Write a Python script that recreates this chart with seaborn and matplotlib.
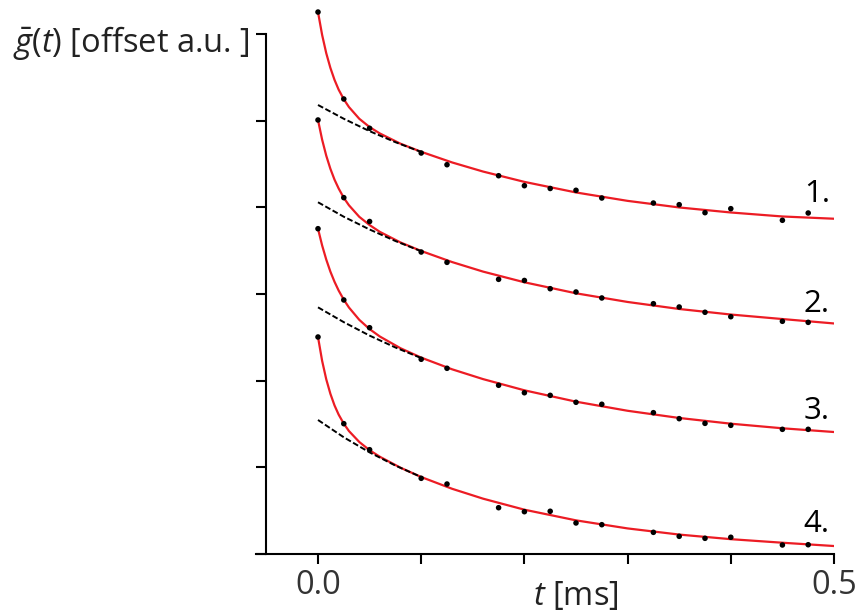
import numpy as np
import pandas as pd
import matplotlib
matplotlib.use("Agg")
import matplotlib.pyplot as plt
import seaborn as sns

# ---- data ----
t_points = [0.0, 0.025, 0.05, 0.1, 0.125, 0.175, 0.2, 0.225, 0.25, 0.275,
            0.325, 0.35, 0.375, 0.4, 0.45, 0.475]
g1_points = [6.251, 5.248, 4.910, 4.625, 4.490, 4.363, 4.248, 4.216, 4.195, 4.106,
             4.048, 4.029, 3.937, 3.983, 3.849, 3.933]
g2_points = [5.006, 4.110, 3.835, 3.483, 3.364, 3.168, 3.155, 3.060, 3.022, 2.953,
             2.887, 2.849, 2.788, 2.737, 2.684, 2.672]
g3_points = [3.752, 2.930, 2.610, 2.246, 2.142, 1.946, 1.860, 1.830, 1.750, 1.727,
             1.630, 1.561, 1.507, 1.484, 1.438, 1.438]
g4_points = [2.503, 1.503, 1.203, 0.873, 0.807, 0.534, 0.488, 0.493, 0.358, 0.338,
             0.250, 0.204, 0.181, 0.193, 0.104, 0.107]

t_fit = [0.0, 0.004, 0.008, 0.012, 0.016, 0.02, 0.025, 0.03, 0.04, 0.05, 0.06,
         0.08, 0.1, 0.13, 0.16, 0.2, 0.25, 0.3, 0.35, 0.4, 0.45, 0.5]
g1_fit = [6.251, 5.987, 5.776, 5.607, 5.469, 5.356, 5.245, 5.155, 5.020, 4.924, 4.850,
          4.732, 4.639, 4.516, 4.411, 4.292, 4.170, 4.073, 3.997, 3.939, 3.893, 3.867]
g2_fit = [5.006, 4.779, 4.594, 4.443, 4.318, 4.216, 4.108, 4.022, 3.889, 3.794, 3.715,
          3.593, 3.495, 3.367, 3.257, 3.134, 3.007, 2.907, 2.826, 2.762, 2.710, 2.659]
g3_fit = [3.752, 3.559, 3.396, 3.257, 3.140, 3.039, 2.933, 2.843, 2.701, 2.594, 2.508,
          2.373, 2.265, 2.130, 2.017, 1.888, 1.757, 1.652, 1.569, 1.503, 1.450, 1.407]
g4_fit = [2.503, 2.228, 2.015, 1.848, 1.714, 1.608, 1.503, 1.418, 1.292, 1.197, 1.121,
          0.995, 0.888, 0.752, 0.638, 0.511, 0.388, 0.295, 0.224, 0.171, 0.130, 0.092]

t_slow = [0.0, 0.025, 0.05, 0.075, 0.1]
g1_slow = [5.179, 5.020, 4.877, 4.750, 4.637]
g2_slow = [4.057, 3.890, 3.743, 3.610, 3.492]
g3_slow = [2.845, 2.674, 2.519, 2.382, 2.260]
g4_slow = [1.546, 1.346, 1.172, 1.020, 0.888]

curve_labels = ["1.", "2.", "3.", "4."]
label_y = [4.06, 2.79, 1.557, 0.254]

x_ticks = [0.0, 0.1, 0.2, 0.3, 0.4, 0.5]
x_ticklabels = ["0.0", "", "", "", "", "0.5"]
y_ticks = [0, 1, 2, 3, 4, 5, 6]

# ---- style ----
sns.set_theme(style="ticks")
plt.rcParams["font.family"] = ["Open Sans", "DejaVu Sans"]
plt.rcParams["mathtext.fontset"] = "custom"
plt.rcParams["mathtext.rm"] = "Open Sans"
plt.rcParams["mathtext.it"] = "Open Sans:italic"

RED = "#ec1c24"
FS = 23.5

fig = plt.figure(figsize=(8.59, 6.14), dpi=100)
W, H = 859, 614
px_per_t = 1032.0
px_per_y = 86.7
left_px = 318 - 0.06 * px_per_t
bottom_px = 554
ax_w = 0.56 * px_per_t
ax_h = 6.35 * px_per_y
ax = fig.add_axes([left_px / W, (H - bottom_px) / H, ax_w / W, ax_h / H])

points = [g1_points, g2_points, g3_points, g4_points]
fits = [g1_fit, g2_fit, g3_fit, g4_fit]
slows = [g1_slow, g2_slow, g3_slow, g4_slow]

for gp, gf, gs in zip(points, fits, slows):
    sns.lineplot(x=t_fit, y=gf, ax=ax, color=RED, lw=1.6, sort=False,
                 estimator=None, zorder=2)
    sns.lineplot(x=t_slow, y=gs, ax=ax, color="black", lw=1.4, sort=False,
                 estimator=None, zorder=3, linestyle=(0, (3, 1.3)))
    sns.scatterplot(x=t_points, y=gp, ax=ax, color="black", s=16,
                    edgecolor="none", zorder=4, clip_on=False)

for lab, yy in zip(curve_labels, label_y):
    ax.text(0.496, yy, lab, ha="right", va="baseline", fontsize=FS - 1,
            color="black")

ax.set_xlim(-0.06, 0.5)
ax.set_ylim(0, 6.35)
ax.set_xticks(x_ticks)
ax.set_xticklabels(x_ticklabels)
ax.set_yticks(y_ticks)
ax.set_yticklabels([])
ax.tick_params(axis="both", direction="out", length=7.5, width=1.5,
               color="black", labelsize=FS, labelcolor="#333333", pad=3)

for side in ["top", "right"]:
    ax.spines[side].set_visible(False)
ax.spines["left"].set_position(("data", -0.05))
ax.spines["left"].set_bounds(0, 6)
for side in ["left", "bottom"]:
    ax.spines[side].set_linewidth(1.5)
    ax.spines[side].set_color("black")

ax.set_xlabel(r"$t$ [ms]", fontsize=FS, color="#222222")
ax.xaxis.label.set_va("baseline")
ax.xaxis.set_label_coords((0.25 + 0.06) / 0.56, -51 / ax_h)
ax.set_ylabel("")

fig.text(250 / W, (H - 52) / H, r"$\bar{g}(t)$ [offset a.u. ]", ha="right",
         va="baseline", fontsize=FS, color="#222222")

fig.savefig("out.png", dpi=100)
